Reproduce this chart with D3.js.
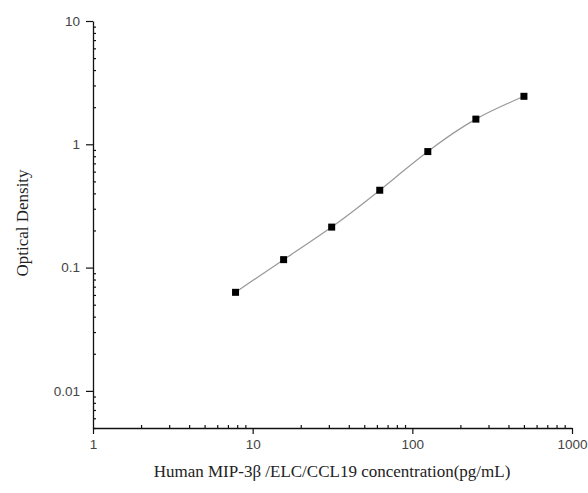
<!DOCTYPE html>
<html>
<head>
<meta charset="utf-8">
<script src="https://cdn.jsdelivr.net/npm/d3@7"></script>
<style>
  body { margin: 0; background: #fff; }
  svg { display: block; }
</style>
</head>
<body>
<div id="root"></div>
<script>
// standard curve values
const concentration = [7.8125, 15.625, 31.25, 62.5, 125, 250, 500]
const opticalDensity = [0.063, 0.116, 0.213, 0.424, 0.873, 1.6, 2.45]
const xTicks = [1, 10, 100, 1000]
const yTicks = [0.01, 0.1, 1, 10]

const graph = {
  width: 588,
  height: 493,
  left: 93,
  right: 572,
  top: 21,
  bottom: 428
}

const svg = d3.select('#root')
  .append('svg')
  .attr('width', graph.width)
  .attr('height', graph.height)

const scaleX = d3.scaleLog()
  .domain([1, 1000])
  .range([graph.left, graph.right])

const scaleY = d3.scaleLog()
  .domain([0.005, 10])
  .range([graph.bottom, graph.top])

// minor ticks 2..9 in each decade
const minorX = []
xTicks.slice(0, -1).forEach(d => { for (let i = 2; i < 10; i++) minorX.push(d * i) })
const minorY = [0.005, 0.006, 0.007, 0.008, 0.009]
yTicks.slice(0, -1).forEach(d => { for (let i = 2; i < 10; i++) minorY.push(+(d * i).toPrecision(3)) })

const fmt = d => String(d)

// x axis
svg.append('g')
  .attr('id', 'x-axis')
  .attr('transform', `translate(0, ${graph.bottom})`)
  .call(d3.axisBottom(scaleX).tickValues(xTicks).tickFormat(fmt).tickSize(6).tickPadding(4).tickSizeOuter(0))
svg.append('g')
  .attr('transform', `translate(0, ${graph.bottom})`)
  .call(d3.axisTop(scaleX).tickValues(minorX).tickFormat('').tickSize(3).tickSizeOuter(0))
  .call(g => g.select('.domain').remove())

// y axis
svg.append('g')
  .attr('id', 'y-axis')
  .attr('transform', `translate(${graph.left}, 0)`)
  .call(d3.axisLeft(scaleY).tickValues(yTicks).tickFormat(fmt).tickSize(7).tickPadding(6).tickSizeOuter(0))
svg.append('g')
  .attr('transform', `translate(${graph.left}, 0)`)
  .call(d3.axisRight(scaleY).tickValues(minorY).tickFormat('').tickSize(3).tickSizeOuter(0))
  .call(g => g.select('.domain').remove())

svg.selectAll('.domain').attr('stroke', '#111').attr('stroke-width', 1.3)
svg.selectAll('.tick line').attr('stroke', '#111').attr('stroke-width', 1.2)
svg.selectAll('.tick text')
  .attr('font-family', 'Liberation Sans, Arial, sans-serif')
  .attr('font-size', 13.5)
  .attr('fill', '#444')
svg.select('#x-axis').selectAll('.tick text').attr('dy', '0.8em')

// fitted curve
const points = concentration.map((c, i) => ({ c: c, od: opticalDensity[i] }))
svg.append('path')
  .datum(points)
  .attr('fill', 'none')
  .attr('stroke', '#999')
  .attr('stroke-width', 1.2)
  .attr('d', d3.line()
    .x(d => scaleX(d.c))
    .y(d => scaleY(d.od))
    .curve(d3.curveNatural))

// markers
svg.selectAll('rect.pt')
  .data(points)
  .join('rect')
  .attr('class', 'pt')
  .attr('x', d => scaleX(d.c) - 3.5)
  .attr('y', d => scaleY(d.od) - 3.5)
  .attr('width', 7)
  .attr('height', 7)
  .attr('fill', '#000')

// titles
svg.append('text')
  .attr('x', 332)
  .attr('y', 477)
  .attr('text-anchor', 'middle')
  .attr('font-family', 'Liberation Serif, Times New Roman, serif')
  .attr('font-size', 17)
  .attr('fill', '#222')
  .text('Human MIP-3β /ELC/CCL19 concentration(pg/mL)')

svg.append('text')
  .attr('transform', `translate(28, 223) rotate(-90)`)
  .attr('text-anchor', 'middle')
  .attr('font-family', 'Liberation Serif, Times New Roman, serif')
  .attr('font-size', 17)
  .attr('fill', '#222')
  .text('Optical Density')
</script>
</body>
</html>
